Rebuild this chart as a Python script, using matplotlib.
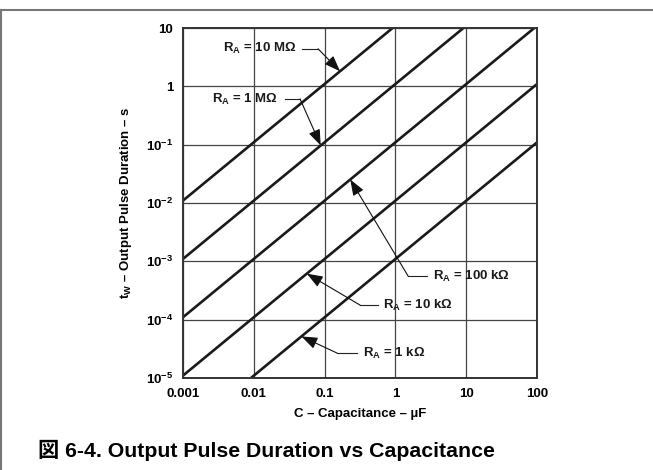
import matplotlib
matplotlib.use("Agg")
import matplotlib.pyplot as plt
import numpy as np
from matplotlib import font_manager
from matplotlib.lines import Line2D
from matplotlib.ticker import FixedLocator, FuncFormatter, NullLocator

plt.rcParams["font.family"] = ["Liberation Sans", "Noto Sans CJK JP", "DejaVu Sans"]
plt.rcParams["font.weight"] = "bold"
plt.rcParams["mathtext.fontset"] = "custom"
plt.rcParams["mathtext.bf"] = "Liberation Sans:bold"
plt.rcParams["mathtext.rm"] = "Liberation Sans:bold"
plt.rcParams["mathtext.default"] = "bf"

# timing lines, endpoints (C in uF, tw in s)
r_labels = ["10 MΩ", "1 MΩ", "100 kΩ", "10 kΩ", "1 kΩ"]
c_start = [0.001, 0.001, 0.001, 0.001, 0.0091]
t_start = [0.011, 0.0011, 1.1e-4, 1.1e-5, 1e-5]
c_end = [0.91, 9.1, 91, 100, 100]
t_end = [10, 10, 10, 1.1, 0.11]

# where each callout arrow hits its line
c_tip = [0.165, 0.088, 0.23, 0.056, 0.047]
# callout leader: text side, elbow, y level
c_lead = [0.048, 0.0276, 2.79, 0.567, 0.287]
c_elbow = [0.0807, 0.045, 1.506, 0.316, 0.1496]
t_lead = [4.4, 0.607, 5.6e-4, 1.78e-4, 2.68e-5]
c_text = [0.0394, 0.0219, 3.40, 0.668, 0.348]
text_side = ["right", "right", "left", "left", "left"]

x_ticks = [0.001, 0.01, 0.1, 1, 10, 100]
y_ticks = [1e-5, 1e-4, 1e-3, 1e-2, 1e-1, 1, 10]


def y_fmt(v, pos):
    if v >= 1:
        return f"{v:g}"
    return "10$^{-%d}$" % round(-np.log10(v))


fig = plt.figure(figsize=(6.53, 4.70), dpi=100)
ax = fig.add_axes([0.2802, 0.1957, 0.5424, 0.7447])
ax.set_xscale("log")
ax.set_yscale("log")
ax.set_xlim(0.001, 100)
ax.set_ylim(1e-5, 10)

ax.xaxis.set_major_locator(FixedLocator(x_ticks))
ax.yaxis.set_major_locator(FixedLocator(y_ticks))
ax.xaxis.set_minor_locator(NullLocator())
ax.yaxis.set_minor_locator(NullLocator())
ax.xaxis.set_major_formatter(FuncFormatter(lambda v, p: f"{v:g}"))
ax.yaxis.set_major_formatter(FuncFormatter(y_fmt))
ax.tick_params(length=0, labelsize=9.5, pad=7)
ax.grid(True, color="#444444", lw=0.9)
for s in ax.spines.values():
    s.set_linewidth(1.4)
    s.set_color("#333333")

for i in range(len(r_labels)):
    cs = [c_start[i], c_end[i]]
    ts = [t_start[i], t_end[i]]
    ax.plot(cs, ts, color="#1a1a1a", lw=1.9, solid_capstyle="butt")

    tip_t = 10 ** np.interp(np.log10(c_tip[i]), np.log10(cs), np.log10(ts))
    ax.plot([c_lead[i], c_elbow[i]], [t_lead[i], t_lead[i]], color="#222222", lw=0.8)
    ax.annotate("", xy=(c_tip[i], tip_t), xytext=(c_elbow[i], t_lead[i]),
                arrowprops=dict(arrowstyle="-|>,head_length=0.75,head_width=0.28",
                                mutation_scale=13, color="#111111", lw=0.8,
                                shrinkA=0, shrinkB=0))
    ax.text(c_text[i], t_lead[i], "R$_A$ = " + r_labels[i], ha=text_side[i],
            va="center", fontsize=9.5, fontweight="bold", color="#1a1a1a")

ax.set_xlabel("C – Capacitance – µF", fontsize=9.5, fontweight="bold")
ax.set_ylabel("t$_W$ – Output Pulse Duration – s", fontsize=9.5, fontweight="bold")
ax.xaxis.set_label_coords(0.5, -0.085)
ax.yaxis.set_label_coords(-0.137, 0.5)

installed = {f.name for f in font_manager.fontManager.ttflist}
if "Liberation Sans Narrow" in installed:
    title_family, title_size = ["Liberation Sans Narrow", "Noto Sans CJK JP"], 18.5
else:
    title_family, title_size = ["Liberation Sans", "Noto Sans CJK JP"], 15.3
fig.text(266 / 653, 1 - 450 / 470, "図 6-4. Output Pulse Duration vs Capacitance",
         ha="center", va="center", fontsize=title_size, fontweight="bold",
         family=title_family)

fig.add_artist(Line2D([0, 1], [0.9787, 0.9787], transform=fig.transFigure,
                      color="#777777", lw=1.5))
fig.add_artist(Line2D([0.0015, 0.0015], [0, 0.9787], transform=fig.transFigure,
                      color="#777777", lw=1.5))

fig.savefig("out.png", dpi=100)
